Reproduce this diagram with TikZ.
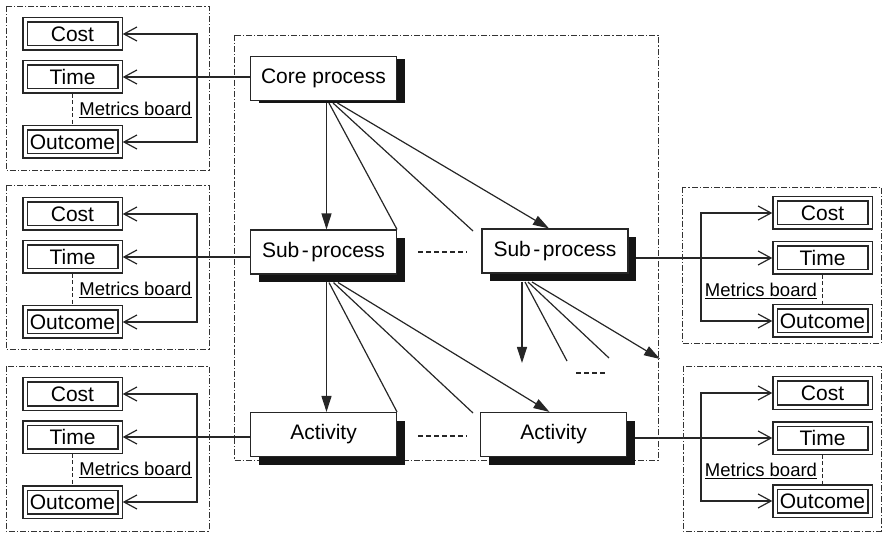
\documentclass[tikz,border=0pt]{standalone}
\usepackage{fontspec}
\setmainfont{Liberation Sans}
\usetikzlibrary{arrows.meta,shadows,backgrounds}
\tikzset{
  ln/.style={draw=black!85,line width=1.2pt},
  frame/.style={draw=black!80,line width=0.9pt,dash pattern=on 6pt off 2pt on 1.2pt off 2pt},
  mbox/.style={draw=black!85,line width=1.2pt,double=white,double distance=3pt,
    minimum width=95pt,minimum height=28pt,inner sep=0pt,outer sep=2.7pt,
    font=\fontsize{21}{24}\selectfont},
  pbox/.style={draw=black!85,line width=1.1pt,fill=white,minimum width=146pt,
    minimum height=44pt,inner sep=0pt,font=\fontsize{21}{24}\selectfont},
  shad/.style={drop shadow={shadow xshift=8pt,shadow yshift=-8pt,fill=black!92,opacity=1}},
  lab/.style={inner sep=0pt,font=\fontsize{18.5}{20}\selectfont},
  barb/.style={ln,-{Straight Barb[length=13pt,width=14pt]}},
  barbb/.style={ln,{Straight Barb[length=13pt,width=14pt]}-{Straight Barb[length=13pt,width=14pt]}},
  tri/.style={ln,-{Triangle[length=16pt,width=10pt]}},
  dsh/.style={ln,dash pattern=on 5pt off 3pt},
  vdsh/.style={draw=black!85,line width=0.9pt,dash pattern=on 4pt off 2.5pt},
}
\newcommand\LeftBoard[2]{%
  \begin{scope}[shift={(0,#2)}]
    \node[mbox] (#1c) at (72.5,34) {Cost};
    \node[mbox] (#1t) at (72.5,77) {Time};
    \node[mbox] (#1o) at (72.5,142) {Outcome};
    \draw[vdsh] (#1t.south) -- (#1o.north);
    \node[lab] (#1l) at (135.5,110) {\underline{Metrics board}};
    \coordinate (#1v) at (197,34);
    \draw[barbb] (#1c.east) -- (#1c.east -| #1v) -- (#1o.east -| #1v) -- (#1o.east);
  \end{scope}}
\newcommand\RightBoard[2]{%
  \begin{scope}[shift={(0,#2)}]
    \node[mbox] (#1c) at (822.5,33) {Cost};
    \node[mbox] (#1t) at (822.5,78) {Time};
    \node[mbox] (#1o) at (822.5,141) {Outcome};
    \draw[vdsh] (#1t.south) -- (#1o.north);
    \node[lab] (#1l) at (761,111) {\underline{Metrics board}};
    \coordinate (#1v) at (701,33);
    \draw[barbb] (#1c.west) -- (#1c.west -| #1v) -- (#1o.west -| #1v) -- (#1o.west);
  \end{scope}}
\begin{document}
\begin{tikzpicture}[x=1pt,y=-1pt]
\useasboundingbox (0,0) rectangle (886,534);
% frames
\draw[frame] (6,6) rectangle (209,170);
\draw[frame] (6,185) rectangle (209,349);
\draw[frame] (6,366) rectangle (209,531);
\draw[frame] (682,187) rectangle (881,343);
\draw[frame] (683,366) rectangle (881,531);
\draw[frame] (234,35) rectangle (658,460);
% boards
\LeftBoard{la}{0}
\LeftBoard{lb}{180}
\LeftBoard{lc}{360}
\RightBoard{ra}{180}
\RightBoard{rb}{360}
% process boxes
\node[pbox,drop shadow={shadow xshift=8pt,shadow yshift=-2.5pt,fill=black!92,opacity=1}] (core) at (323.5,78.5) {Core process};
\node[pbox,shad] (sub1) at (323.5,252) {Sub\kern2.5pt-\kern2.5pt process};
\node[pbox,shad] (sub2) at (555,251) {Sub\kern2.5pt-\kern2.5pt process};
\node[pbox,shad] (act1) at (323.5,434.5) {Activity};
\node[pbox,shad] (act2) at (553.5,434.5) {Activity};
% coordinates
\coordinate (c1e) at (473,231);
\coordinate (s1e) at (473,413);
\coordinate (s2a) at (522,282);
\coordinate (s2b) at (525,282);
\coordinate (s2c) at (528,282);
\coordinate (s2d) at (532,282);
\coordinate (s2ae) at (522,363);
\coordinate (s2be) at (567,361);
\coordinate (s2ce) at (609,358);
\coordinate (s2de) at (660,359);
\coordinate (d1a) at (418,252);
\coordinate (d1b) at (467,252);
\coordinate (d2a) at (418,436);
\coordinate (d2b) at (467,436);
\coordinate (d3a) at (576,373);
\coordinate (d3b) at (606,373);
\begin{scope}[on background layer]
  % core fan
  \draw[tri] ([xshift=3pt]core.south) -- ([xshift=3pt]sub1.north);
  \draw[ln] ([xshift=5.5pt,yshift=-2pt]core.south) -- (sub1.north east);
  \draw[ln] ([xshift=9.5pt,yshift=-2pt]core.south) -- (c1e);
  \draw[tri] ([xshift=14pt,yshift=-2pt]core.south) -- ([xshift=-6pt]sub2.north);
  % sub1 fan
  \draw[tri] ([xshift=3pt]sub1.south) -- ([xshift=3pt]act1.north);
  \draw[ln] ([xshift=5.5pt,yshift=-8pt]sub1.south) -- (act1.north east);
  \draw[ln] ([xshift=10pt,yshift=-8pt]sub1.south) -- (s1e);
  \draw[tri] ([xshift=14.5pt,yshift=-8pt]sub1.south) -- ([xshift=-4pt]act2.north);
  % sub2 fan
  \draw[tri] (s2a) -- (s2ae);
  \draw[ln] (s2b) -- (s2be);
  \draw[ln] (s2c) -- (s2ce);
  \draw[tri] (s2d) -- (s2de);
  % to boards
  \draw[barb] (core.west |- lat.east) -- (lat.east);
  \draw[barb] (sub1.west |- lbt.east) -- (lbt.east);
  \draw[barb] (act1.west |- lct.east) -- (lct.east);
  \draw[barb] (sub2.east |- rat.west) -- (rat.west);
  \draw[barb] (act2.east |- rbt.west) -- (rbt.west);
\end{scope}
% ellipsis dashes
\draw[dsh] (d1a) -- (d1b);
\draw[dsh] (d2a) -- (d2b);
\draw[dsh] (d3a) -- (d3b);
\end{tikzpicture}
\end{document}
